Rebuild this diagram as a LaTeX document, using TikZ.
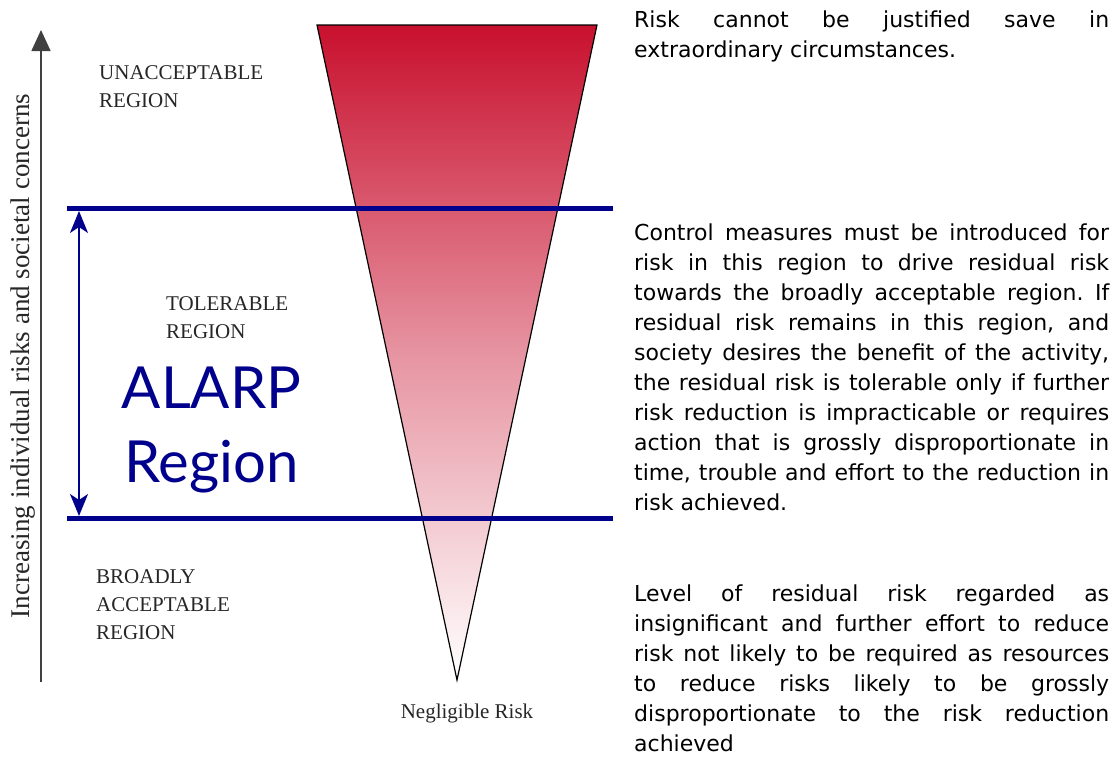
\documentclass[tikz,border=0pt]{standalone}
\usepackage{fontspec}
\usepackage{xcolor}
\usepackage{tikz}
\usetikzlibrary{arrows.meta}

\newfontfamily\regionfont{Liberation Serif}
\newfontfamily\notefont{DejaVu Sans}
\newfontfamily\alarpfont{Lato}

\definecolor{riskred}{RGB}{200,16,46}
\definecolor{alarpblue}{RGB}{0,0,140}

\frenchspacing

\begin{document}
\begin{tikzpicture}[x=1pt, y=-1pt, font=\regionfont]
	\tikzstyle{region} = [anchor=north west, inner sep=0pt, align=left, text=black!85, font=\regionfont\fontsize{21}{28}\selectfont]
	
	\tikzstyle{remark} = [anchor=north west, inner sep=0pt, text width=475pt, align=justify, font=\notefont\fontsize{22}{30}\selectfont]
	
	\tikzstyle{bandline} = [draw=alarpblue, line width=5pt]
	\tikzstyle{alarpspan} = [draw=alarpblue, line width=1.8pt, {Stealth[length=22pt,width=18pt,inset=6pt]}-{Stealth[length=22pt,width=18pt,inset=6pt]}]
	\tikzstyle{riskaxis} = [draw=black!75, line width=1.5pt, -{Triangle[length=21pt,width=19pt]}]
	
	\useasboundingbox (0,0) rectangle (1117,756);
	
	% Vertical axis
	\coordinate (axisbot) at (41,682);
	\coordinate (axistop) at (41,30);
	\draw [riskaxis] (axisbot) -- (axistop);
	\node (axislabel) [rotate=90, anchor=base, inner sep=0pt, text=black!85, font=\regionfont\fontsize{27}{27}\selectfont] at (30,356) {Increasing individual risks and societal concerns};
	
	% Funnel
	\coordinate (funtl) at (317,25);
	\coordinate (funtr) at (597,25);
	\coordinate (funtip) at (457,680);
	\shade [top color=riskred, bottom color=white, middle color=riskred!45] (funtl) -- (funtr) -- (funtip) -- cycle;
	\draw [black, line width=1.2pt] (funtl) -- (funtr) -- (funtip) -- cycle;
	
	% Region limits
	\coordinate (upl) at (67,208.5);
	\coordinate (upr) at (613,208.5);
	\coordinate (lowl) at (67,518.5);
	\coordinate (lowr) at (613,518.5);
	\draw [bandline] (upl) -- (upr);
	\draw [bandline] (lowl) -- (lowr);
	
	\coordinate (spantop) at (79,211);
	\coordinate (spanbot) at (79,516);
	\draw [alarpspan] (spantop) -- (spanbot);
	
	% Region labels
	\node (unacc) [region] at (99,65) {UNACCEPTABLE\\REGION};
	\node (toler) [region] at (166,296) {TOLERABLE\\REGION};
	\node (broad) [region] at (96,569) {BROADLY\\ACCEPTABLE\\REGION};
	\node (alarp) [anchor=north, inner sep=0pt, align=center, text=alarpblue, font=\alarpfont\fontsize{58}{74}\selectfont] at (211.5,367) {ALARP\\Region};
	\node (neglig) [anchor=base, inner sep=0pt, text=black!85, font=\regionfont\fontsize{21}{28}\selectfont] at (467,718) {Negligible Risk};
	
	% Notes on the right
	\node (unaccnote) [remark] at (634,11) {Risk cannot be justified save in\linebreak extraordinary circumstances.};
	\node (tolernote) [remark] at (634,224) {Control measures must be introduced for\linebreak risk in this region to drive residual risk\linebreak towards the broadly acceptable region. If\linebreak residual risk remains in this region, and\linebreak society desires the benefit of the activity,\linebreak the residual risk is tolerable only if further\linebreak risk reduction is impracticable or requires\linebreak action that is grossly disproportionate in\linebreak time, trouble and effort to the reduction in\linebreak risk achieved.};
	\node (broadnote) [remark] at (634,585) {Level of residual risk regarded as\linebreak insignificant and further effort to reduce\linebreak risk not likely to be required as resources\linebreak to reduce risks likely to be grossly\linebreak disproportionate to the risk reduction\linebreak achieved};
\end{tikzpicture}
\end{document}
